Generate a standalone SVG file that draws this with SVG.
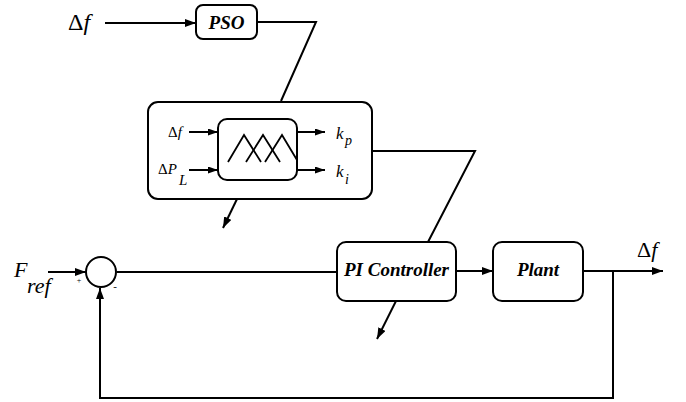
<svg xmlns="http://www.w3.org/2000/svg" width="686" height="402" viewBox="0 0 686 402">
  <defs>
    <marker id="arr" markerUnits="userSpaceOnUse" markerWidth="11" markerHeight="8" refX="11" refY="4" orient="auto">
      <path d="M0,0 L11,4 L0,8 z" fill="#000"/>
    </marker>
    <marker id="arrS" markerUnits="userSpaceOnUse" markerWidth="10" markerHeight="7" refX="10" refY="3.5" orient="auto">
      <path d="M0,0 L10,3.5 L0,7 z" fill="#000"/>
    </marker>
  </defs>
  <style>
    .box { fill: #fff; stroke: #000; stroke-width: 2; }
    .ln { fill: none; stroke: #000; stroke-width: 2; }
    .mf { fill: none; stroke: #000; stroke-width: 1.8; }
    text { font-family: "Liberation Serif", "Times New Roman", "DejaVu Serif", serif; fill: #000; }
    .lbl { font-weight: bold; font-style: italic; font-size: 19px; }
    .it { font-style: italic; }
  </style>
  <rect width="686" height="402" fill="#fff"/>

  <!-- input label -->
  <g id="in-df">
    <text x="68" y="30" font-size="24" font-family="Liberation Serif, serif">Δ<tspan class="it">f</tspan></text>
  </g>

  <g id="pso">
    <rect class="box" x="196" y="5" width="61" height="34" rx="7"/>
    <text class="lbl" x="226.5" y="29" text-anchor="middle" font-family="Liberation Serif, serif">PSO</text>
  </g>

  <g id="fuzzy">
    <rect class="box" x="148" y="102" width="224" height="97" rx="10"/>
    <rect class="box" x="218" y="119" width="79" height="61" rx="9"/>
    <polyline class="mf" points="228,162 244,135 261,162"/>
    <polyline class="mf" points="246,162 263,135 280,162"/>
    <polyline class="mf" points="265,162 282,135 297,160"/>
    <text x="168" y="137" font-size="15" font-family="Liberation Serif, serif">Δ<tspan class="it">f</tspan></text>
    <text x="158" y="174" font-size="15" font-family="Liberation Serif, serif">Δ<tspan class="it">P</tspan></text>
    <text class="it" x="179" y="185" font-size="15" font-family="Liberation Serif, serif">L</text>
    <text class="it" x="336" y="139" font-size="17" font-family="Liberation Serif, serif">k</text>
    <text class="it" x="345" y="145" font-size="14" font-family="Liberation Serif, serif">p</text>
    <text class="it" x="336" y="177" font-size="17" font-family="Liberation Serif, serif">k</text>
    <text class="it" x="345" y="184" font-size="14" font-family="Liberation Serif, serif">i</text>
  </g>

  <g id="sum">
    <circle class="box" cx="101" cy="272" r="15"/>
    <text x="79" y="283" font-size="8" text-anchor="middle" font-family="Liberation Serif, serif">+</text>
    <text x="115" y="290" font-size="11" text-anchor="middle" font-family="Liberation Serif, serif">-</text>
  </g>

  <g id="fref">
    <text class="it" x="14" y="277" font-size="22" font-family="Liberation Serif, serif">F</text>
    <text class="it" x="27" y="293" font-size="22" font-family="Liberation Serif, serif">ref</text>
  </g>

  <g id="pi">
    <rect class="box" x="337" y="242" width="119" height="59" rx="9"/>
    <text class="lbl" x="396.5" y="276" text-anchor="middle" font-family="Liberation Serif, serif">PI Controller</text>
  </g>

  <g id="plant">
    <rect class="box" x="493" y="242" width="90" height="59" rx="9"/>
    <text class="lbl" x="538" y="276" text-anchor="middle" font-family="Liberation Serif, serif">Plant</text>
  </g>

  <g id="out-df">
    <text x="637" y="257" font-size="22" font-family="Liberation Serif, serif">Δ<tspan class="it">f</tspan></text>
  </g>

  <!-- connectors -->
  <g id="connectors">
    <line class="ln" x1="105" y1="23" x2="196" y2="23" marker-end="url(#arr)"/>
    <polyline class="ln" points="257,22 316,22 281,101"/>
    <polyline class="ln" points="372,151 475,151 428,242"/>
    <line class="ln" x1="237" y1="199" x2="223" y2="228" marker-end="url(#arr)"/>
    <line class="ln" x1="396" y1="301" x2="377" y2="339" marker-end="url(#arr)"/>
    <line class="ln" x1="48" y1="272" x2="86" y2="272" marker-end="url(#arr)"/>
    <line class="ln" x1="117" y1="272" x2="337" y2="272"/>
    <line class="ln" x1="456" y1="271" x2="493" y2="271" marker-end="url(#arr)"/>
    <line class="ln" x1="583" y1="271" x2="663" y2="271" marker-end="url(#arr)"/>
    <polyline class="ln" points="613,271 613,398 100,398 100,288" marker-end="url(#arr)"/>
    <!-- fuzzy block inner signals -->
    <line class="ln" x1="189" y1="132" x2="218" y2="132" marker-end="url(#arrS)"/>
    <line class="ln" x1="189" y1="170" x2="218" y2="170" marker-end="url(#arrS)"/>
    <line class="ln" x1="297" y1="132" x2="325" y2="132" marker-end="url(#arrS)"/>
    <line class="ln" x1="297" y1="170" x2="325" y2="170" marker-end="url(#arrS)"/>
  </g>
</svg>
